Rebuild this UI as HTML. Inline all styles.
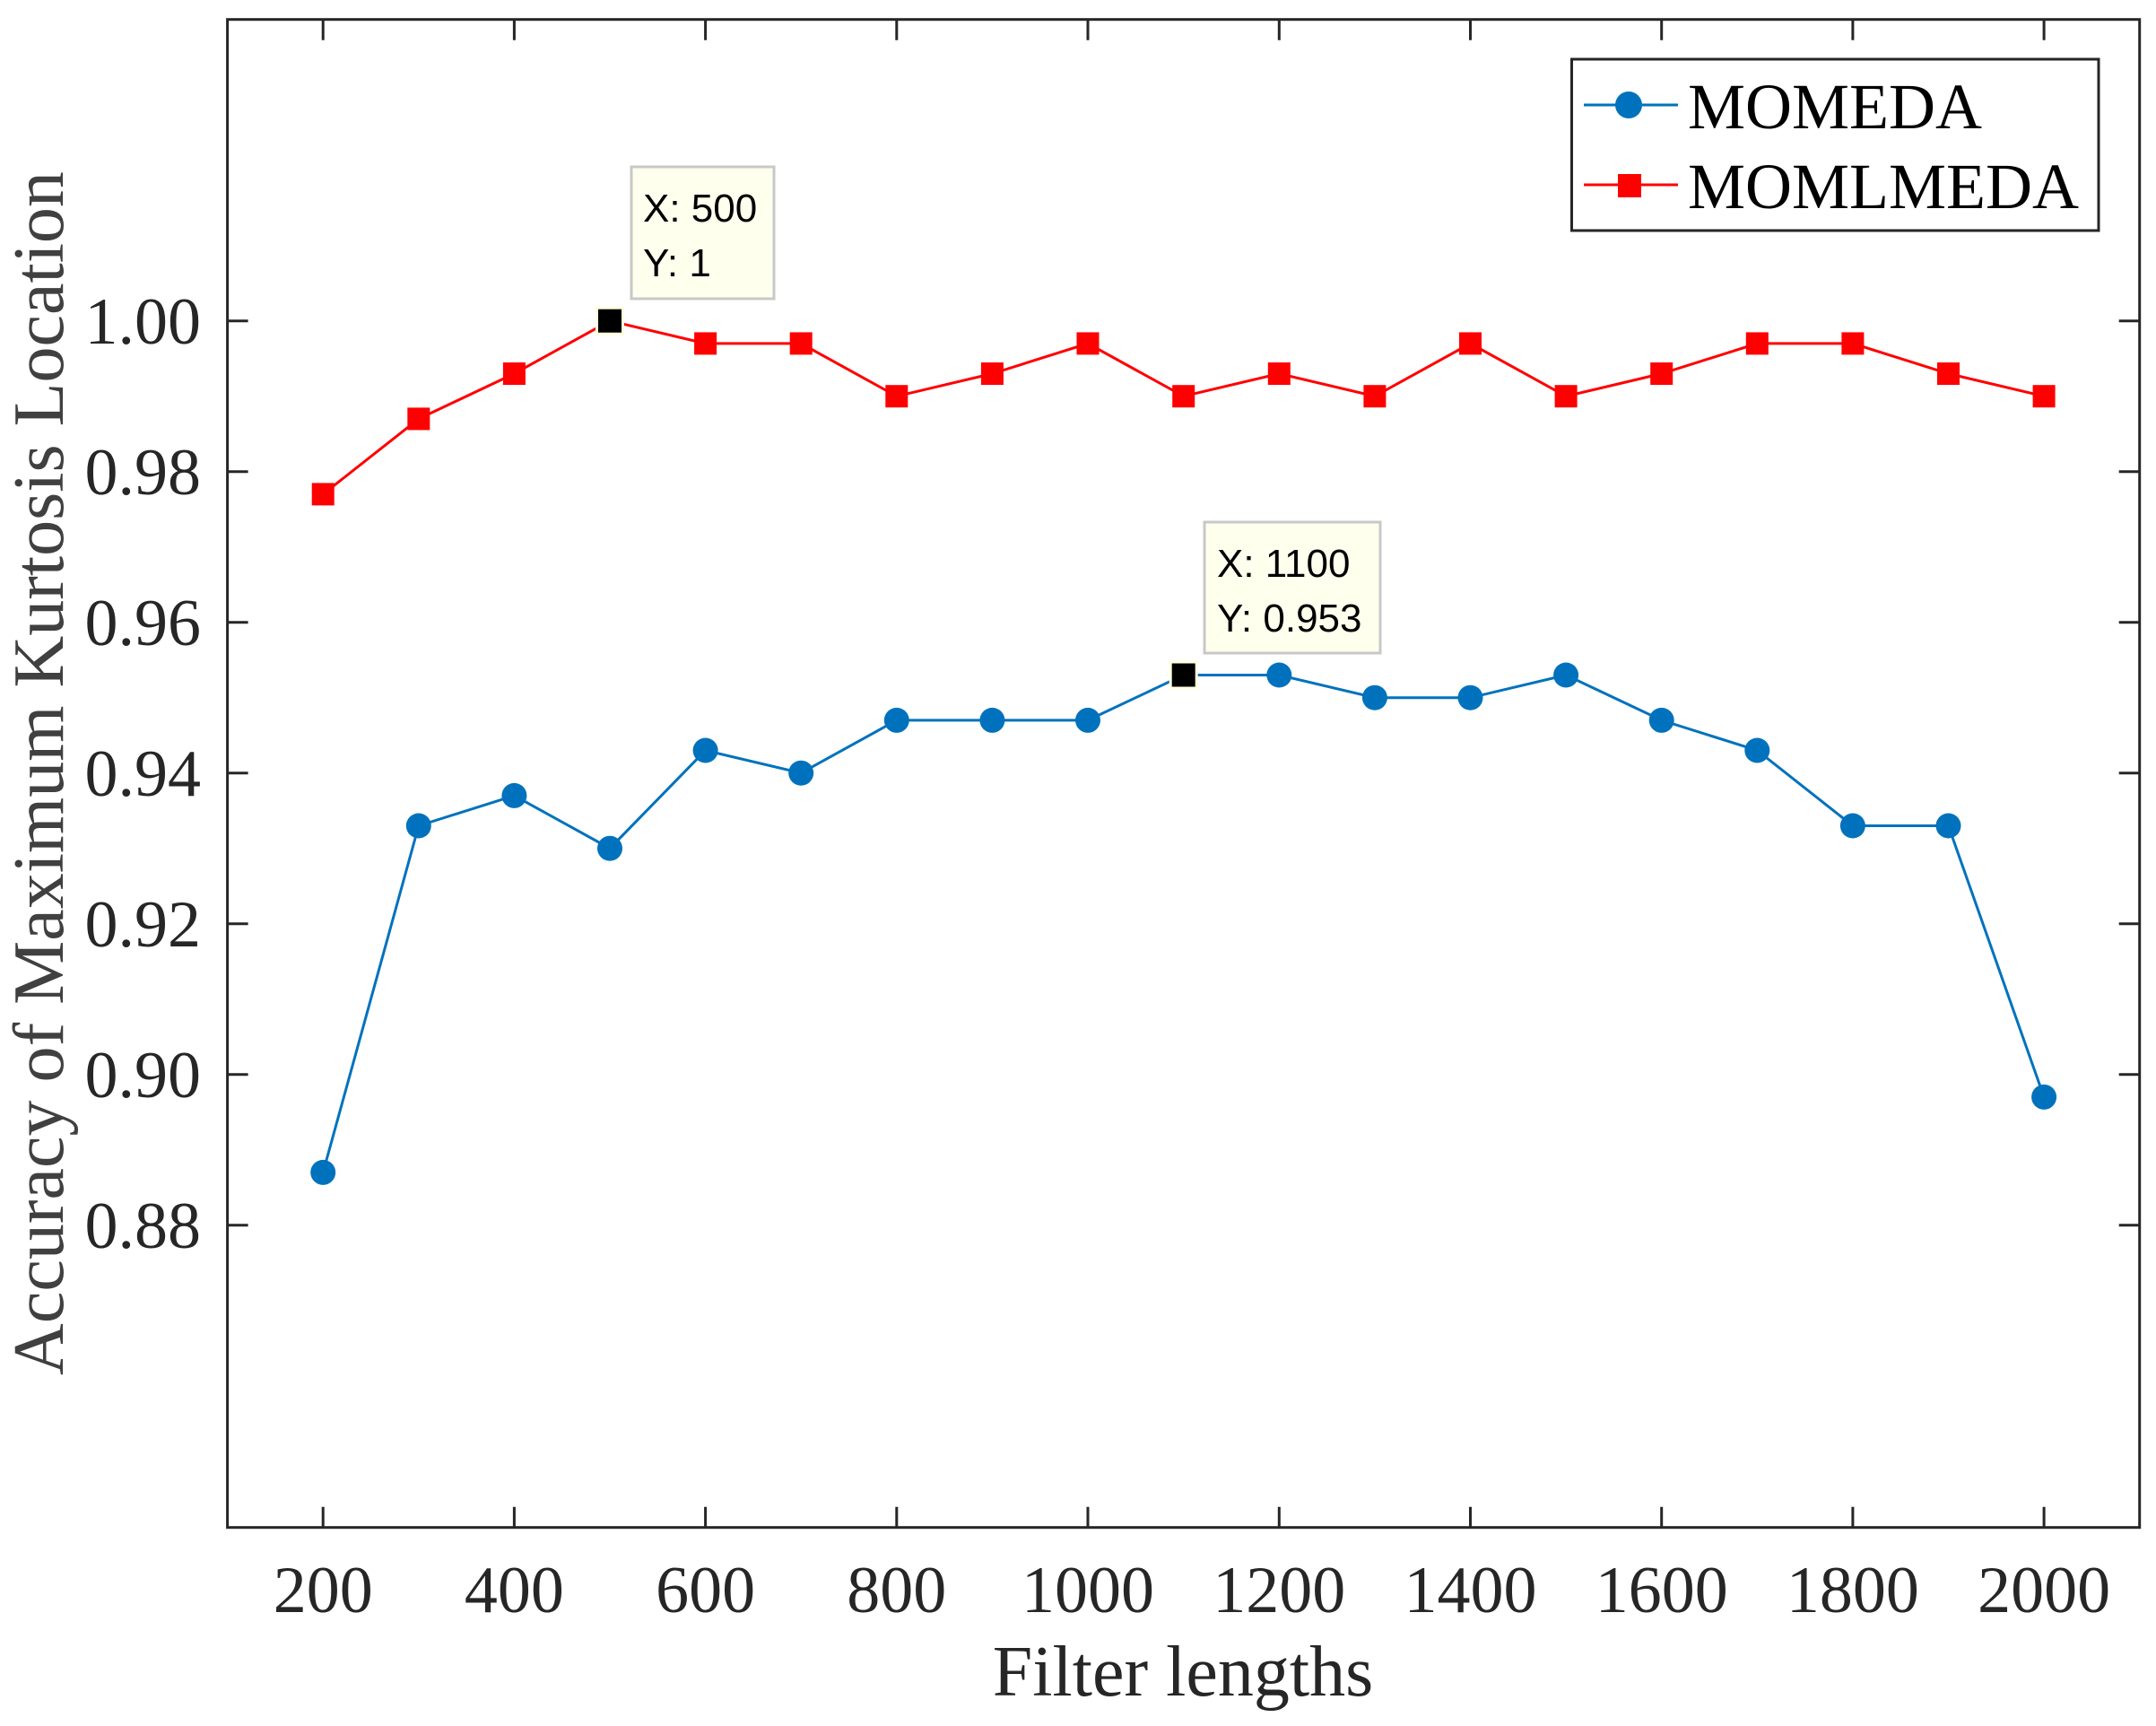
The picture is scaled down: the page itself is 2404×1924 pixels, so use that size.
<!DOCTYPE html>
<html><head><meta charset="utf-8"><style>
html,body{margin:0;padding:0;background:#fff;}
svg{display:block;}
</style></head><body>
<svg width="2404" height="1924" viewBox="0 0 2404 1924" xmlns="http://www.w3.org/2000/svg">
<rect width="2404" height="1924" fill="#fff"/>
<g stroke="#262626" stroke-width="3" fill="none">
<rect x="253.6" y="21.7" width="2132.1" height="1681"/>
<!-- x ticks bottom/top -->
<path d="M360.2 1702.7v-23M573.4 1702.7v-23M786.6 1702.7v-23M999.8 1702.7v-23M1213 1702.7v-23M1426.3 1702.7v-23M1639.5 1702.7v-23M1852.7 1702.7v-23M2065.9 1702.7v-23M2279.1 1702.7v-23"/>
<path d="M360.2 21.7v23M573.4 21.7v23M786.6 21.7v23M999.8 21.7v23M1213 21.7v23M1426.3 21.7v23M1639.5 21.7v23M1852.7 21.7v23M2065.9 21.7v23M2279.1 21.7v23"/>
<path d="M253.6 357.7h23M253.6 525.7h23M253.6 693.7h23M253.6 861.7h23M253.6 1029.7h23M253.6 1197.7h23M253.6 1365.7h23"/>
<path d="M2385.7 357.7h-23M2385.7 525.7h-23M2385.7 693.7h-23M2385.7 861.7h-23M2385.7 1029.7h-23M2385.7 1197.7h-23M2385.7 1365.7h-23"/>
</g>
<g font-family="Liberation Serif, serif" font-size="74" fill="#262626" text-anchor="end">
<text x="224" y="383">1.00</text><text x="224" y="551">0.98</text><text x="224" y="719">0.96</text><text x="224" y="887">0.94</text><text x="224" y="1055">0.92</text><text x="224" y="1223">0.90</text><text x="224" y="1391">0.88</text>
</g>
<g font-family="Liberation Serif, serif" font-size="74" fill="#262626" text-anchor="middle">
<text x="360.2" y="1797">200</text><text x="573.4" y="1797">400</text><text x="786.6" y="1797">600</text><text x="999.8" y="1797">800</text><text x="1213" y="1797">1000</text><text x="1426.3" y="1797">1200</text><text x="1639.5" y="1797">1400</text><text x="1852.7" y="1797">1600</text><text x="2065.9" y="1797">1800</text><text x="2279.1" y="1797">2000</text>
</g>
<text x="1319" y="1890" font-family="Liberation Serif, serif" font-size="80" fill="#262626" text-anchor="middle">Filter lengths</text>
<text transform="translate(70,862) rotate(-90)" font-family="Liberation Serif, serif" font-size="80" fill="#404040" text-anchor="middle">Accuracy of Maximum Kurtosis Location</text>

<!-- red series -->
<polyline fill="none" stroke="#ff0000" stroke-width="3" points="360.2,550.9 466.8,466.9 573.4,416.5 680,357.7 786.6,382.9 893.2,382.9 999.8,441.7 1106.4,416.5 1213,382.9 1319.7,441.7 1426.3,416.5 1532.9,441.7 1639.5,382.9 1746.1,441.7 1852.7,416.5 1959.3,382.9 2065.9,382.9 2172.5,416.5 2279.1,441.7"/>
<g fill="#ff0000">
<rect x="347.7" y="538.4" width="25" height="25"/><rect x="454.3" y="454.4" width="25" height="25"/><rect x="560.9" y="404" width="25" height="25"/><rect x="774.1" y="370.4" width="25" height="25"/><rect x="880.7" y="370.4" width="25" height="25"/><rect x="987.3" y="429.2" width="25" height="25"/><rect x="1093.9" y="404" width="25" height="25"/><rect x="1200.5" y="370.4" width="25" height="25"/><rect x="1307.2" y="429.2" width="25" height="25"/><rect x="1413.8" y="404" width="25" height="25"/><rect x="1520.4" y="429.2" width="25" height="25"/><rect x="1627" y="370.4" width="25" height="25"/><rect x="1733.6" y="429.2" width="25" height="25"/><rect x="1840.2" y="404" width="25" height="25"/><rect x="1946.8" y="370.4" width="25" height="25"/><rect x="2053.4" y="370.4" width="25" height="25"/><rect x="2160" y="404" width="25" height="25"/><rect x="2266.6" y="429.2" width="25" height="25"/>
</g>
<rect x="664" y="341.7" width="32" height="32" fill="#ffffe0"/>
<rect x="667" y="344.7" width="26" height="26" fill="#000"/>

<!-- blue series -->
<polyline fill="none" stroke="#0072bd" stroke-width="3" points="360.2,1306.9 466.8,920.5 573.4,886.9 680,945.7 786.6,836.5 893.2,861.7 999.8,802.9 1106.4,802.9 1213,802.9 1319.7,752.5 1426.3,752.5 1532.9,777.7 1639.5,777.7 1746.1,752.5 1852.7,802.9 1959.3,836.5 2065.9,920.5 2172.5,920.5 2279.1,1222.9"/>
<g fill="#0072bd">
<circle cx="360.2" cy="1306.9" r="14"/><circle cx="466.8" cy="920.5" r="14"/><circle cx="573.4" cy="886.9" r="14"/><circle cx="680" cy="945.7" r="14"/><circle cx="786.6" cy="836.5" r="14"/><circle cx="893.2" cy="861.7" r="14"/><circle cx="999.8" cy="802.9" r="14"/><circle cx="1106.4" cy="802.9" r="14"/><circle cx="1213" cy="802.9" r="14"/><circle cx="1426.3" cy="752.5" r="14"/><circle cx="1532.9" cy="777.7" r="14"/><circle cx="1639.5" cy="777.7" r="14"/><circle cx="1746.1" cy="752.5" r="14"/><circle cx="1852.7" cy="802.9" r="14"/><circle cx="1959.3" cy="836.5" r="14"/><circle cx="2065.9" cy="920.5" r="14"/><circle cx="2172.5" cy="920.5" r="14"/><circle cx="2279.1" cy="1222.9" r="14"/>
</g>
<rect x="1303.7" y="736.5" width="32" height="32" fill="#ffffe0"/>
<rect x="1306.7" y="739.5" width="26" height="26" fill="#000"/>

<!-- data tips -->
<rect x="704" y="186" width="159" height="147" fill="#ffffee" stroke="#c8c8c8" stroke-width="3"/>
<g font-family="Liberation Sans, sans-serif" font-size="44" fill="#000">
<text x="717" y="247">X: 500</text><text x="717" y="308">Y: 1</text>
</g>
<rect x="1343" y="582" width="196" height="146" fill="#ffffee" stroke="#c8c8c8" stroke-width="3"/>
<g font-family="Liberation Sans, sans-serif" font-size="44" fill="#000">
<text x="1357" y="643">X: 1100</text><text x="1357" y="704">Y: 0.953</text>
</g>

<!-- legend -->
<rect x="1752.5" y="66" width="587.5" height="191" fill="#fff" stroke="#262626" stroke-width="3"/>
<line x1="1766" y1="117" x2="1871" y2="117" stroke="#0072bd" stroke-width="3"/>
<circle cx="1816" cy="117" r="15" fill="#0072bd"/>
<line x1="1766" y1="206" x2="1871" y2="206" stroke="#ff0000" stroke-width="3"/>
<rect x="1804" y="194" width="26" height="26" fill="#ff0000"/>
<g font-family="Liberation Serif, serif" font-size="72" fill="#000">
<text x="1882" y="143">MOMEDA</text><text x="1882" y="232">MOMLMEDA</text>
</g>
</svg>
</body></html>
